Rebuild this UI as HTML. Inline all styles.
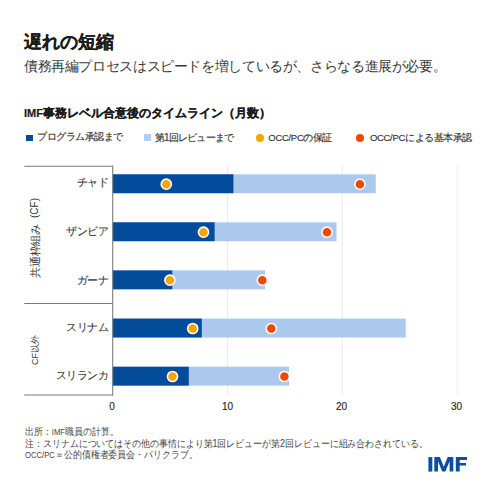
<!DOCTYPE html>
<html><head><meta charset="utf-8">
<style>
*{margin:0;padding:0;box-sizing:border-box}
html,body{width:491px;height:491px;background:#fff;overflow:hidden}
body{position:relative;font-family:"Liberation Sans",sans-serif;color:#333}
.a{position:absolute;white-space:nowrap;line-height:1}
.sk{-webkit-text-stroke:0.25px currentColor}
svg{position:absolute;left:0;top:0}
.lab{font-size:11px;color:#383838;-webkit-text-stroke:0.1px #383838;text-align:right;width:80px;letter-spacing:-0.6px}
.tick{font-size:10px;color:#222;text-align:center;width:30px;-webkit-text-stroke:0.12px #222}
.leg{font-size:10px;color:#333;-webkit-text-stroke:0.15px #333}
.lat{font-size:10px;letter-spacing:-0.7px}
.lat3{font-size:9.5px;letter-spacing:-0.3px}
.lat4{font-size:8.6px}
</style></head><body>
<svg width="491" height="491" viewBox="0 0 491 491">
  <g fill="none" stroke="#ebebeb" stroke-width="1">
    <line x1="227.5" y1="166" x2="227.5" y2="394"/>
    <line x1="342.3" y1="166" x2="342.3" y2="394"/>
    <line x1="457.2" y1="166" x2="457.2" y2="394"/>
  </g>
  <g fill="#aac9ec">
    <rect x="112.8" y="174.3" width="262.9" height="18.9"/>
    <rect x="112.8" y="222.3" width="223.7" height="18.9"/>
    <rect x="112.8" y="270.4" width="152.2" height="18.9"/>
    <rect x="112.8" y="318.6" width="292.9" height="18.9"/>
    <rect x="112.8" y="366.7" width="176.2" height="18.9"/>
  </g>
  <g fill="#034c9c">
    <rect x="112.8" y="174.3" width="120.6" height="18.9"/>
    <rect x="112.8" y="222.3" width="101.8" height="18.9"/>
    <rect x="112.8" y="270.4" width="59.5" height="18.9"/>
    <rect x="112.8" y="318.6" width="89" height="18.9"/>
    <rect x="112.8" y="366.7" width="76" height="18.9"/>
  </g>
  <g stroke="#fff" stroke-width="1.6">
    <circle cx="166.3" cy="184.20" r="5.05" fill="#f7a400"/>
    <circle cx="359.9" cy="184.20" r="5.05" fill="#f04600"/>
    <circle cx="203.5" cy="232.20" r="5.05" fill="#f7a400"/>
    <circle cx="327" cy="232.20" r="5.05" fill="#f04600"/>
    <circle cx="169.9" cy="280.20" r="5.05" fill="#f7a400"/>
    <circle cx="262.3" cy="280.20" r="5.05" fill="#f04600"/>
    <circle cx="192.7" cy="328.50" r="5.05" fill="#f7a400"/>
    <circle cx="271.3" cy="328.50" r="5.05" fill="#f04600"/>
    <circle cx="172.5" cy="376.50" r="5.05" fill="#f7a400"/>
    <circle cx="284.4" cy="376.50" r="5.05" fill="#f04600"/>
  </g>
  <g stroke="#787878" stroke-width="1.05" fill="none">
    <line x1="24.3" y1="166.3" x2="113" y2="166.3"/>
    <line x1="24.3" y1="303.5" x2="113" y2="303.5"/>
    <line x1="24.3" y1="395" x2="113" y2="395"/>
    <line x1="112.7" y1="165.6" x2="112.7" y2="395.6"/>
  </g>
</svg>
<div class="a" style="left:24px;top:33px;font-size:18px;font-weight:bold;color:#1a1a1a;-webkit-text-stroke:0.12px #1a1a1a">遅れの短縮</div>
<div class="a" style="left:24px;top:58.5px;font-size:14px;letter-spacing:-0.38px;color:#3a3a3a">債務再編プロセスはスピードを増しているが、さらなる進展が必要。</div>
<div class="a" style="left:24px;top:107.3px;font-size:12px;font-weight:bold;color:#1a1a1a;-webkit-text-stroke:0.2px #1a1a1a"><span style="font-size:11px">IMF</span>事務レベル合意後のタイムライン（月数）</div>

<div class="a" style="left:26.2px;top:134.6px;width:6.6px;height:6.6px;background:#034c9c"></div>
<div class="a leg" style="left:37.2px;top:132.3px;letter-spacing:-0.49px">プログラム承認まで</div>
<div class="a" style="left:144.2px;top:134.3px;width:6.6px;height:6.6px;background:#aad0f4"></div>
<div class="a leg" style="left:154.8px;top:132.5px;letter-spacing:-0.8px">第<span class="lat">1</span>回レビューまで</div>
<div class="a" style="left:255.9px;top:133.8px;width:8px;height:8px;border-radius:50%;background:#f7a400"></div>
<div class="a leg" style="left:268.3px;top:132.9px;letter-spacing:-0.5px"><span class="lat3">OCC/PC</span>の保証</div>
<div class="a" style="left:356.4px;top:133.8px;width:8px;height:8px;border-radius:50%;background:#f04600"></div>
<div class="a leg" style="left:369.9px;top:132.9px;letter-spacing:-0.45px"><span class="lat3">OCC/PC</span>による基本承認</div>

<div class="a lab" style="left:28px;top:177.2px">チャド</div>
<div class="a lab" style="left:28px;top:226.2px">ザンビア</div>
<div class="a lab" style="left:28px;top:275.4px">ガーナ</div>
<div class="a lab" style="left:28px;top:321.7px">スリナム</div>
<div class="a lab" style="left:28px;top:369.6px">スリランカ</div>

<div class="a" style="left:34.6px;top:251.2px;font-size:11px;color:#333;letter-spacing:-0.3px;transform:translate(-50%,-50%) rotate(-90deg)">共通枠組み</div>
<div class="a" style="left:34.6px;top:207.9px;font-size:10px;color:#333;transform:translate(-50%,-50%) rotate(-90deg)">(CF)</div>
<div class="a" style="left:35.2px;top:349.5px;font-size:9px;color:#333;transform:translate(-50%,-50%) rotate(-90deg)">CF以外</div>

<div class="a tick" style="left:97px;top:402.1px">0</div>
<div class="a tick" style="left:212.5px;top:402.1px">10</div>
<div class="a tick" style="left:326.6px;top:402.1px">20</div>
<div class="a tick" style="left:441.5px;top:402.1px">30</div>

<div class="a" style="left:25px;top:426px;font-size:10px;color:#444;line-height:11.2px;transform:scaleX(0.893);transform-origin:0 0">出所：<span class="lat4">IMF</span>職員の計算。<br>注：スリナムについてはその他の事情により第1回レビューが第2回レビューに組み合わされている。<br><span class="lat4">OCC/PC</span>＝公的債権者委員会・パリクラブ。</div>

<svg width="491" height="491" viewBox="0 0 491 491"><g fill="#0d4f9f">
<rect x="428.4" y="457.1" width="3.9" height="14.5"/>
<polygon points="434.3,471.6 434.3,457.1 439.9,457.1 443.8,466.8 447.7,457.1 453.3,457.1 453.3,471.6 449.6,471.6 449.6,461.2 445.4,471.6 442.2,471.6 438,461.2 438,471.6"/>
<polygon points="455.8,457.1 467,457.1 467,459.9 459.7,459.9 459.7,462.9 466,462.9 466,465.6 459.7,465.6 459.7,471.6 455.8,471.6"/>
</g></svg>
</body></html>
